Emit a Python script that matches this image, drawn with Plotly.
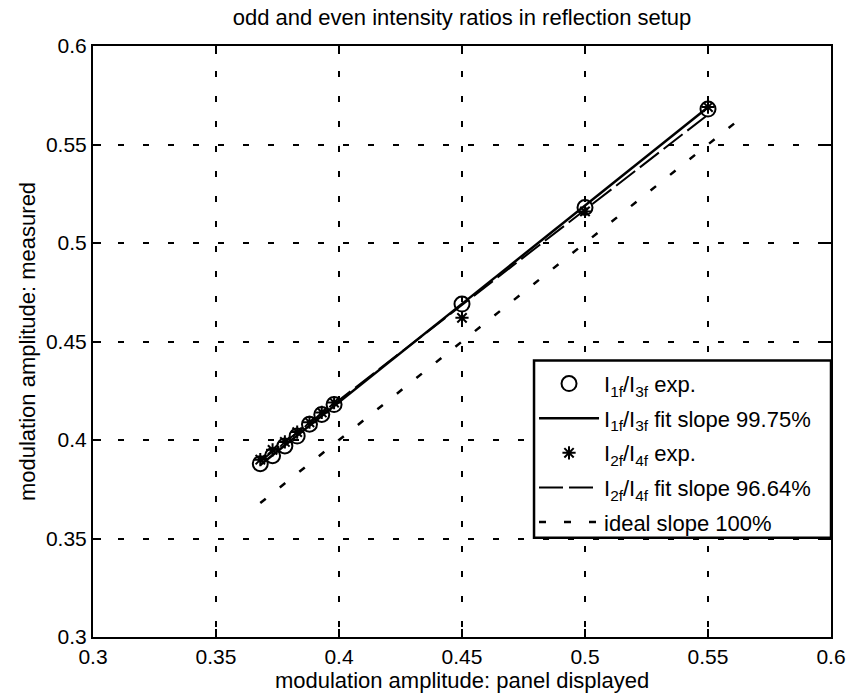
import numpy as np
import plotly.graph_objects as go

# Panel-displayed modulation amplitudes (x) and measured ratios (y)
x_odd = [0.368, 0.373, 0.378, 0.383, 0.388, 0.393, 0.398, 0.450, 0.500, 0.550]
y_odd = [0.388, 0.392, 0.397, 0.402, 0.408, 0.413, 0.418, 0.469, 0.518, 0.568]

x_even = [0.368, 0.373, 0.378, 0.383, 0.388, 0.393, 0.398, 0.450, 0.500, 0.550]
y_even = [0.390, 0.395, 0.399, 0.404, 0.409, 0.414, 0.419, 0.462, 0.516, 0.569]

slope_odd = 0.9975
slope_even = 0.9664
slope_ideal = 1.0
ideal_range = [0.368, 0.565]

x_tickvals = [0.3, 0.35, 0.4, 0.45, 0.5, 0.55, 0.6]
x_ticktext = ["0.3", "0.35", "0.4", "0.45", "0.5", "0.55", "0.6"]
y_tickvals = [0.3, 0.35, 0.4, 0.45, 0.5, 0.55, 0.6]
y_ticktext = ["0.3", "0.35", "0.4", "0.45", "0.5", "0.55", "0.6"]

FONT = "Liberation Sans, Arial, Helvetica, sans-serif"

# legend frame in paper coordinates
LEG_X0, LEG_X1 = 0.5976, 1.0
LEG_Y0, LEG_Y1 = 0.168, 0.468


def fixed_slope_fit(xs, ys, slope):
    xs = np.asarray(xs)
    ys = np.asarray(ys)
    intercept = ys.mean() - slope * xs.mean()
    xf = np.array([xs.min(), xs.max()])
    return xf, slope * xf + intercept


xf_odd, yf_odd = fixed_slope_fit(x_odd, y_odd, slope_odd)
xf_even, yf_even = fixed_slope_fit(x_even, y_even, slope_even)
xi = np.array(ideal_range)
yi = slope_ideal * xi

fig = go.Figure()

fig.add_trace(go.Scatter(
    x=x_odd, y=y_odd, mode="markers", legendgroup="g1",
    name="I<sub>1f</sub>/I<sub>3f</sub> exp.",
    marker=dict(symbol="circle-open", size=15, color="black",
                line=dict(width=2, color="black")),
))
fig.add_trace(go.Scatter(
    x=xf_odd, y=yf_odd, mode="lines", legendgroup="g2",
    name="I<sub>1f</sub>/I<sub>3f</sub> fit slope 99.75%",
    line=dict(color="black", width=2.5),
))
fig.add_trace(go.Scatter(
    x=x_even, y=y_even, mode="markers", legendgroup="g3",
    name="I<sub>2f</sub>/I<sub>4f</sub> exp.",
    marker=dict(symbol="asterisk-open", size=11, color="black",
                line=dict(width=2, color="black")),
))
fig.add_trace(go.Scatter(
    x=xf_even, y=yf_even, mode="lines", legendgroup="g4",
    name="I<sub>2f</sub>/I<sub>4f</sub> fit slope 96.64%",
    line=dict(color="black", width=2, dash="24px,6px"),
))
fig.add_trace(go.Scatter(
    x=xi, y=yi, mode="lines", legendgroup="g5",
    name="ideal slope 100%",
    line=dict(color="black", width=2.5, dash="7px,18px"),
))

axis_common = dict(
    showline=True, linecolor="black", linewidth=2, mirror="allticks",
    ticks="inside", ticklen=8, tickwidth=1.5, tickcolor="black",
    showgrid=True, gridcolor="black", gridwidth=1.5, griddash="6px,19px",
    zeroline=False, tickfont=dict(family=FONT, size=21, color="black"),
)

fig.update_xaxes(
    range=[0.3, 0.6], tickvals=x_tickvals, ticktext=x_ticktext,
    title=dict(text="modulation amplitude: panel displayed",
               font=dict(family=FONT, size=22, color="black"), standoff=4),
    **axis_common,
)
fig.update_yaxes(
    range=[0.3, 0.6], tickvals=y_tickvals, ticktext=y_ticktext,
    title=dict(text="modulation amplitude: measured",
               font=dict(family=FONT, size=22, color="black"), standoff=4),
    **axis_common,
)

# white framed box behind the legend entries
fig.add_shape(
    type="rect", xref="paper", yref="paper",
    x0=LEG_X0, x1=LEG_X1, y0=LEG_Y0, y1=LEG_Y1,
    line=dict(color="black", width=2.5), fillcolor="white", layer="above",
)

fig.update_layout(
    width=858, height=700,
    margin=dict(l=93, r=17, t=46, b=60),
    paper_bgcolor="white", plot_bgcolor="white",
    title=dict(text="odd and even intensity ratios in reflection setup",
               font=dict(family=FONT, size=22, color="black"),
               x=0.5, xref="paper", xanchor="center", y=0.975, yanchor="middle"),
    legend=dict(
        x=LEG_X0, xanchor="left", y=LEG_Y1 - 0.004, yanchor="top",
        bgcolor="rgba(0,0,0,0)", borderwidth=0,
        font=dict(family=FONT, size=22, color="black"),
        itemwidth=60, tracegroupgap=3,
    ),
    showlegend=True,
)

fig.write_html("out.html")
